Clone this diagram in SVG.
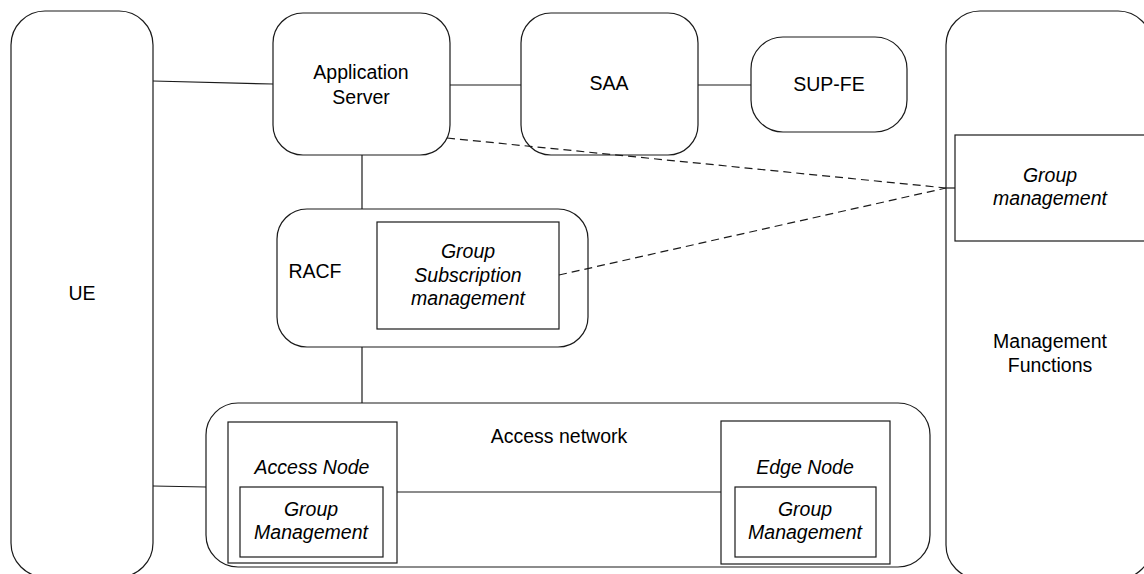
<svg xmlns="http://www.w3.org/2000/svg" width="1144" height="574" viewBox="0 0 1144 574">
<style>
.box{fill:#fff;stroke:#1a1a1a;stroke-width:1.2}
.ln{fill:none;stroke:#1a1a1a;stroke-width:1.2}
.dash{fill:none;stroke:#1a1a1a;stroke-width:1.2;stroke-dasharray:8,5}
text{font-family:"Liberation Sans",Arial,sans-serif;font-size:19.5px;fill:#000;text-anchor:middle}
.it{font-style:italic}
</style>
<rect width="1144" height="574" fill="#fff"/>
<g id="UE"><rect class="box" x="11" y="11" width="142" height="566" rx="34"/><text x="82" y="300">UE</text></g>
<g id="MF"><rect class="box" x="946" y="11" width="206" height="568" rx="34"/><text x="1050" y="348">Management</text><text x="1050" y="372">Functions</text>
<g id="MF-GM"><rect class="box" x="955" y="135" width="200" height="106"/><text class="it" x="1050" y="182">Group</text><text class="it" x="1050" y="205">management</text></g></g>
<g id="AS"><rect class="box" x="273" y="13" width="177" height="142" rx="30"/><text x="361" y="79">Application</text><text x="361" y="104">Server</text></g>
<g id="SAA"><rect class="box" x="521" y="13" width="177" height="142" rx="30"/><text x="609" y="90">SAA</text></g>
<g id="SUPFE"><rect class="box" x="751" y="37" width="156" height="95" rx="32"/><text x="829" y="91">SUP-FE</text></g>
<g id="RACF"><rect class="box" x="277" y="209" width="311" height="138" rx="30"/><text x="315" y="278">RACF</text>
<g id="GSM"><rect class="box" x="377" y="222" width="182" height="107"/><text class="it" x="468" y="258">Group</text><text class="it" x="468" y="282">Subscription</text><text class="it" x="468" y="305">management</text></g></g>
<g id="AN"><rect class="box" x="206" y="403" width="724" height="164" rx="32"/><text x="559" y="443">Access network</text>
<g id="AccessNode"><rect class="box" x="228" y="422" width="169" height="141"/><text class="it" x="312" y="474">Access Node</text>
<rect class="box" x="240" y="487" width="143" height="70"/><text class="it" x="311" y="516">Group</text><text class="it" x="311" y="539">Management</text></g>
<g id="EdgeNode"><rect class="box" x="721" y="421" width="169" height="143"/><text class="it" x="805" y="474">Edge Node</text>
<rect class="box" x="735" y="487" width="141" height="70"/><text class="it" x="805" y="516">Group</text><text class="it" x="805" y="539">Management</text></g></g>
<g id="connectors">
<line class="ln" x1="153" y1="81" x2="273" y2="84"/>
<line class="ln" x1="450" y1="85" x2="521" y2="85"/>
<line class="ln" x1="698" y1="85" x2="751" y2="85"/>
<line class="ln" x1="362" y1="155" x2="362" y2="209"/>
<line class="ln" x1="362" y1="347" x2="362" y2="403"/>
<line class="ln" x1="153" y1="486" x2="206" y2="487"/>
<line class="ln" x1="397" y1="492" x2="721" y2="492"/>
<line class="dash" x1="447" y1="138" x2="946" y2="188"/>
<line class="dash" x1="559" y1="275" x2="946" y2="188"/>
<line class="ln" x1="946" y1="188" x2="955" y2="188"/>
</g>
</svg>
